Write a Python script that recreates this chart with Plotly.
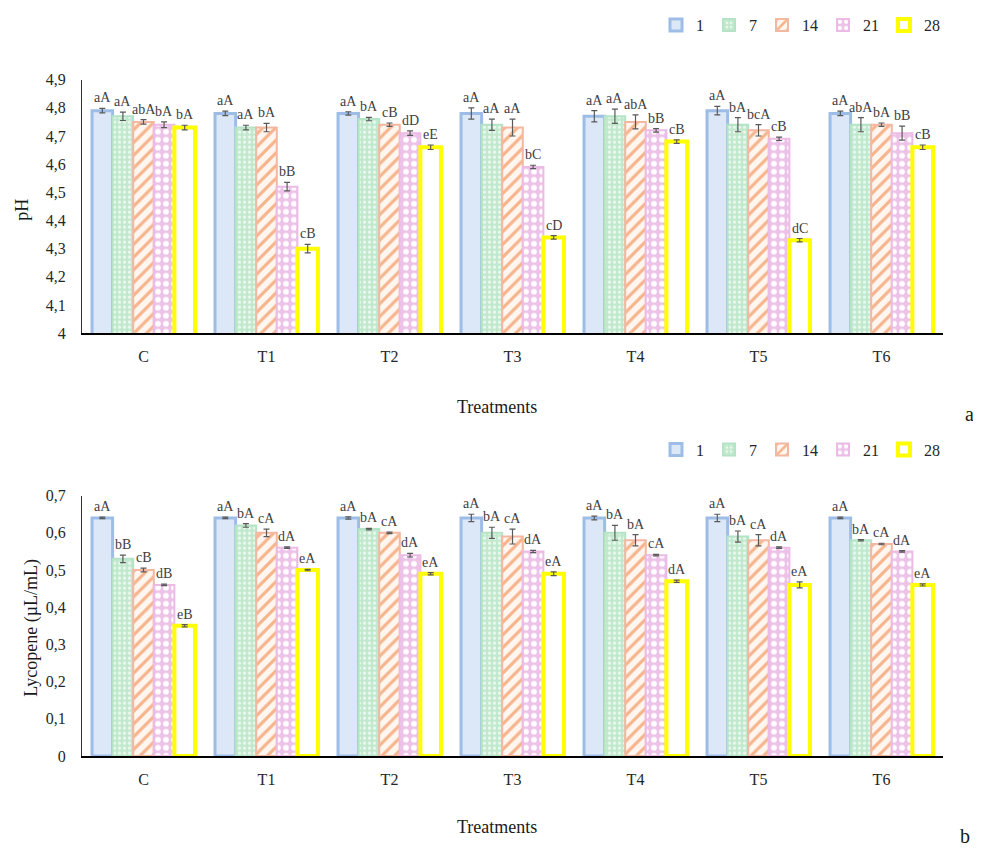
import plotly.graph_objects as go

# ---------------- data ----------------
treatments = ["C", "T1", "T2", "T3", "T4", "T5", "T6"]
days = ["1", "7", "14", "21", "28"]

ph_day1 = [4.79, 4.78, 4.78, 4.78, 4.77, 4.79, 4.78]
ph_day7 = [4.77, 4.73, 4.76, 4.74, 4.77, 4.74, 4.74]
ph_day14 = [4.75, 4.73, 4.74, 4.73, 4.75, 4.72, 4.74]
ph_day21 = [4.74, 4.52, 4.71, 4.59, 4.72, 4.69, 4.71]
ph_day28 = [4.73, 4.30, 4.66, 4.34, 4.68, 4.33, 4.66]

ph_err1 = [0.008, 0.008, 0.006, 0.02, 0.02, 0.015, 0.008]
ph_err7 = [0.015, 0.008, 0.006, 0.02, 0.025, 0.025, 0.025]
ph_err14 = [0.008, 0.015, 0.006, 0.03, 0.025, 0.02, 0.006]
ph_err21 = [0.01, 0.015, 0.008, 0.006, 0.006, 0.006, 0.025]
ph_err28 = [0.008, 0.015, 0.008, 0.006, 0.006, 0.006, 0.008]

ph_lab1 = ["aA", "aA", "aA", "aA", "aA", "aA", "aA"]
ph_lab7 = ["aA", "aA", "bA", "aA", "aA", "bA", "abA"]
ph_lab14 = ["abA", "bA", "cB", "aA", "abA", "bcA", "bA"]
ph_lab21 = ["bA", "bB", "dD", "bC", "bB", "cB", "bB"]
ph_lab28 = ["bA", "cB", "eE", "cD", "cB", "dC", "cB"]

ly_day1 = [0.64, 0.64, 0.64, 0.64, 0.64, 0.64, 0.64]
ly_day7 = [0.53, 0.62, 0.61, 0.60, 0.60, 0.59, 0.58]
ly_day14 = [0.50, 0.60, 0.60, 0.59, 0.58, 0.58, 0.57]
ly_day21 = [0.46, 0.56, 0.54, 0.55, 0.54, 0.56, 0.55]
ly_day28 = [0.35, 0.50, 0.49, 0.49, 0.47, 0.46, 0.46]

ly_err1 = [0.002, 0.002, 0.003, 0.01, 0.005, 0.01, 0.002]
ly_err7 = [0.01, 0.005, 0.002, 0.015, 0.02, 0.015, 0.002]
ly_err14 = [0.005, 0.01, 0.002, 0.02, 0.015, 0.015, 0.002]
ly_err21 = [0.002, 0.002, 0.005, 0.003, 0.002, 0.002, 0.002]
ly_err28 = [0.003, 0.002, 0.003, 0.005, 0.003, 0.008, 0.003]

ly_lab1 = ["aA", "aA", "aA", "aA", "aA", "aA", "aA"]
ly_lab7 = ["bB", "bA", "bA", "bA", "bA", "bA", "bA"]
ly_lab14 = ["cB", "cA", "cA", "cA", "bA", "cA", "cA"]
ly_lab21 = ["dB", "dA", "dA", "dA", "cA", "dA", "dA"]
ly_lab28 = ["eB", "eA", "eA", "eA", "dA", "eA", "eA"]

ph_ticks = [4.0, 4.1, 4.2, 4.3, 4.4, 4.5, 4.6, 4.7, 4.8, 4.9]
ph_ticktext = ["4", "4,1", "4,2", "4,3", "4,4", "4,5", "4,6", "4,7", "4,8", "4,9"]
ly_ticks = [0.0, 0.1, 0.2, 0.3, 0.4, 0.5, 0.6, 0.7]
ly_ticktext = ["0", "0,1", "0,2", "0,3", "0,4", "0,5", "0,6", "0,7"]

# ---------------- styles ----------------
FONT = "Liberation Serif"
styles = [
    dict(color="#dce8f7", line=dict(color="#9dbde6", width=3)),
    dict(color="#c5ead2", line=dict(color="#b4e3c6", width=2),
         pattern=dict(shape=".", fgcolor="#e9f8ee", bgcolor="#bfe8cc", size=5, solidity=0.35, fillmode="replace")),
    dict(color="#ffffff", line=dict(color="#f4b7a2", width=2),
         pattern=dict(shape="/", fgcolor="#f6b48c", bgcolor="#fff6f0", size=9, solidity=0.35, fillmode="replace")),
    dict(color="#f0c8ec", line=dict(color="#ebbbe5", width=2),
         pattern=dict(shape=".", fgcolor="#ffffff", bgcolor="#edc2e8", size=8, solidity=0.4, fillmode="replace")),
    dict(color="#ffffff", line=dict(color="#ffff00", width=4)),
]

BARGAP = 0.163
xs = list(range(len(treatments)))

ph_vals = [ph_day1, ph_day7, ph_day14, ph_day21, ph_day28]
ph_errs = [ph_err1, ph_err7, ph_err14, ph_err21, ph_err28]
ph_labs = [ph_lab1, ph_lab7, ph_lab14, ph_lab21, ph_lab28]
ly_vals = [ly_day1, ly_day7, ly_day14, ly_day21, ly_day28]
ly_errs = [ly_err1, ly_err7, ly_err14, ly_err21, ly_err28]
ly_labs = [ly_lab1, ly_lab7, ly_lab14, ly_lab21, ly_lab28]

fig = go.Figure()

def add_panel(vals, errs, xaxis, yaxis, legend):
    for j, d in enumerate(days):
        fig.add_trace(go.Bar(
            x=xs, y=vals[j], name=d, xaxis=xaxis, yaxis=yaxis,
            legend=legend, offsetgroup=str(j),
            marker=styles[j],
            error_y=dict(type="data", array=errs[j], color="#595959", thickness=1.2, width=3),
        ))

add_panel(ph_vals, ph_errs, "x", "y", "legend")
add_panel(ly_vals, ly_errs, "x2", "y2", "legend2")

bw = (1 - BARGAP) / len(days)
annotations = []
def add_labels(vals, errs, labs, xref, yref):
    for j in range(len(days)):
        for i in xs:
            annotations.append(dict(
                x=i + (j - 2) * bw, y=vals[j][i] + errs[j][i], xref=xref, yref=yref,
                text=labs[j][i], showarrow=False, yanchor="bottom", yshift=1,
                font=dict(family=FONT, size=14, color="#404040")))

add_labels(ph_vals, ph_errs, ph_labs, "x", "y")
add_labels(ly_vals, ly_errs, ly_labs, "x2", "y2")

# page body has an 8px margin; figure placed at (8, 8) inside the 981x858 window
OFF = 8
W, H = 981 - OFF, 858 - OFF
def px(xp, yp):
    return (xp - OFF) / W, 1 - (yp - OFF) / H

for txt, (xp, yp), size, ang in [
    ("Treatments", (497, 406), 18, 0),
    ("Treatments", (497, 836), 18, 0),
    ("a", (969, 414), 20, 0),
    ("b", (965, 845), 20, 0),
    ("pH", (22, 205), 18, -90),
    ("Lycopene (µL/mL)", (32, 632), 18, -90),
]:
    ax_, ay_ = px(xp, yp)
    annotations.append(dict(x=ax_, y=ay_, xref="paper", yref="paper", text=txt, showarrow=False,
                            textangle=ang, xanchor="center", yanchor="middle",
                            font=dict(family=FONT, size=size, color="#1a1a1a")))

xd = [px(82, 0)[0], px(943, 0)[0]]
common_x = dict(domain=xd, range=[-0.5, 6.5], tickmode="array", tickvals=xs, ticktext=treatments,
                showline=True, linecolor="#000000", linewidth=2, ticks="outside", ticklen=8,
                tickcolor="rgba(0,0,0,0)", showgrid=False, zeroline=False,
                tickfont=dict(family=FONT, size=16, color="#262626"))
common_y = dict(showline=True, linecolor="#333333", linewidth=1, ticks="outside", ticklen=12,
                tickcolor="rgba(0,0,0,0)", showgrid=False, zeroline=False, tickmode="array",
                tickfont=dict(family=FONT, size=16, color="#262626"))

fig.update_layout(
    width=W, height=H, margin=dict(l=0, r=0, t=0, b=0),
    paper_bgcolor="white", plot_bgcolor="white",
    barmode="group", bargap=BARGAP, bargroupgap=0,
    font=dict(family=FONT),
    xaxis=dict(anchor="y", **common_x),
    xaxis2=dict(anchor="y2", **common_x),
    yaxis=dict(anchor="x", domain=[px(0, 331)[1], px(0, 72)[1]], range=[4, 4.9],
               tickvals=ph_ticks, ticktext=ph_ticktext, **common_y),
    yaxis2=dict(anchor="x2", domain=[px(0, 763)[1], px(0, 497)[1]], range=[0, 0.7],
                tickvals=ly_ticks, ticktext=ly_ticktext, **common_y),
    legend=dict(orientation="h", x=px(945, 0)[0], xanchor="right", y=px(0, 16)[1], yanchor="middle",
                font=dict(family=FONT, size=16, color="#262626"), itemwidth=30,
                bgcolor="rgba(0,0,0,0)", tracegroupgap=0),
    legend2=dict(orientation="h", x=px(945, 0)[0], xanchor="right", y=px(0, 450)[1], yanchor="middle",
                 font=dict(family=FONT, size=16, color="#262626"), itemwidth=30,
                 bgcolor="rgba(0,0,0,0)", tracegroupgap=0),
    annotations=annotations,
)

fig.write_html("out.html")
